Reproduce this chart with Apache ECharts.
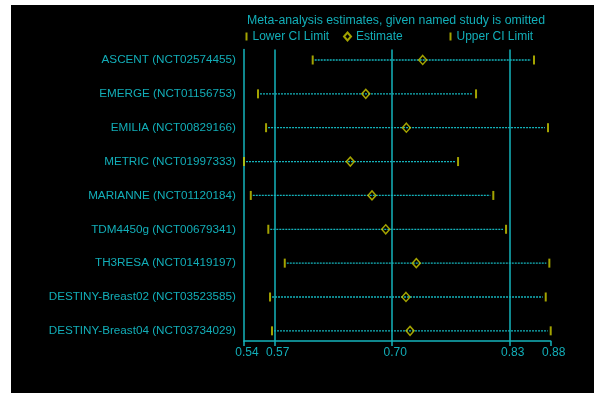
<!DOCTYPE html>
<html>
<head>
<meta charset="utf-8">
<script src="https://cdn.jsdelivr.net/npm/echarts@6/dist/echarts.min.js"></script>
<style>
  html, body { margin: 0; padding: 0; background: #ffffff; }
  #frame { position: absolute; left: 11px; top: 5px; right: 0; bottom: 0; background: #000000; }
  #chart { position: absolute; left: 0; top: 0; width: 594px; height: 393px; }
</style>
</head>
<body>
<div id="frame"></div>
<div id="chart"></div>
<script>
// Leave-one-out meta-analysis: pooled estimate and CI when each study is dropped
const studies = [
  'ASCENT (NCT02574455)',
  'EMERGE (NCT01156753)',
  'EMILIA (NCT00829166)',
  'METRIC (NCT01997333)',
  'MARIANNE (NCT01120184)',
  'TDM4450g (NCT00679341)',
  'TH3RESA (NCT01419197)',
  'DESTINY-Breast02 (NCT03523585)',
  'DESTINY-Breast04 (NCT03734029)'
];
const lowerCI  = [0.612, 0.5515, 0.5604, 0.536, 0.5435, 0.5629, 0.5811, 0.5648, 0.567];
const estimate = [0.7337, 0.6707, 0.7156, 0.6536, 0.6776, 0.6928, 0.7266, 0.7152, 0.7197];
const upperCI  = [0.8568, 0.7927, 0.8723, 0.7728, 0.8118, 0.8259, 0.8738, 0.8698, 0.8753];

// Overall pooled lower limit, estimate, upper limit
const refLines = [0.57, 0.70, 0.83];

const xMin = Math.min(...lowerCI);
const xMax = Math.max(...upperCI);
const xTicks = [xMin, ...refLines, xMax];

const CYAN = '#14b4bc';
const TEXT = '#12aeb8';
const YELLOW = '#cccc00';
const FONT = '"Liberation Sans", Arial, sans-serif';

const rowIdx = studies.map((_, i) => i + 1);

const chart = echarts.init(document.getElementById('chart'), null, { renderer: 'canvas' });

const legendText = { color: TEXT, fontSize: 12, fontFamily: FONT };

chart.setOption({
  animation: false,
  backgroundColor: 'transparent',
  title: {
    text: 'Meta-analysis estimates, given named study is omitted',
    left: 247,
    top: 15,
    padding: 0,
    textStyle: { color: TEXT, fontSize: 12.3, fontWeight: 'normal', fontFamily: FONT }
  },
  legend: [
    { data: ['Lower CI Limit'], left: 245.5, top: 30.5, padding: 0, icon: 'rect', itemWidth: 2, itemHeight: 8, textStyle: legendText },
    { data: ['Estimate'], left: 343, top: 30.5, padding: 0, icon: 'diamond', itemWidth: 7, itemHeight: 8, textStyle: legendText },
    { data: ['Upper CI Limit'], left: 449.5, top: 30.5, padding: 0, icon: 'rect', itemWidth: 2, itemHeight: 8, textStyle: legendText }
  ],
  grid: { left: 244, right: 43.3, top: 49.5, bottom: 52 },
  xAxis: {
    type: 'value',
    min: xMin,
    max: xMax,
    axisLine: { show: true, lineStyle: { color: CYAN, width: 1.5 } },
    axisTick: { show: true, customValues: xTicks, length: 5, lineStyle: { color: CYAN, width: 1.5 } },
    axisLabel: {
      customValues: xTicks,
      formatter: v => v.toFixed(2),
      color: TEXT, fontSize: 12, fontFamily: FONT, margin: 6, padding: [0, 0, 0, 6]
    },
    splitLine: { show: false }
  },
  yAxis: {
    type: 'value',
    min: 0.69,
    max: 9.3,
    inverse: true,
    axisLine: { show: true, lineStyle: { color: CYAN, width: 1.5 } },
    axisTick: { show: false },
    axisLabel: {
      customValues: rowIdx,
      formatter: v => studies[Math.round(v) - 1],
      color: TEXT, fontSize: 11.7, fontFamily: FONT, margin: 8
    },
    splitLine: { show: false }
  },
  series: [
    {
      name: 'CI',
      type: 'custom',
      z: 1,
      data: studies.map((_, i) => [i + 1, lowerCI[i], upperCI[i]]),
      encode: { x: [1, 2], y: 0 },
      renderItem: (params, api) => {
        const row = api.value(0);
        const p1 = api.coord([api.value(1), row]);
        const p2 = api.coord([api.value(2), row]);
        return {
          type: 'line',
          shape: { x1: p1[0] + 2, y1: p1[1], x2: p2[0] - 3, y2: p2[1] },
          style: { stroke: CYAN, lineWidth: 1.3, lineDash: [2, 1] }
        };
      },
      markLine: {
        silent: true,
        symbol: 'none',
        label: { show: false },
        lineStyle: { color: CYAN, width: 1.5, type: 'solid' },
        data: refLines.map(v => ({ xAxis: v }))
      }
    },
    {
      name: 'Lower CI Limit',
      type: 'scatter',
      z: 3,
      symbol: 'rect',
      symbolSize: [2, 9],
      itemStyle: { color: YELLOW },
      data: lowerCI.map((v, i) => [v, i + 1])
    },
    {
      name: 'Upper CI Limit',
      type: 'scatter',
      z: 3,
      symbol: 'rect',
      symbolSize: [2, 9],
      itemStyle: { color: YELLOW },
      data: upperCI.map((v, i) => [v, i + 1])
    },
    {
      name: 'Estimate',
      type: 'scatter',
      z: 4,
      symbol: 'diamond',
      symbolSize: [8, 9],
      itemStyle: { color: 'rgba(0,0,0,0)', borderColor: YELLOW, borderWidth: 1.5 },
      data: estimate.map((v, i) => [v, i + 1])
    }
  ]
});
</script>
</body>
</html>
